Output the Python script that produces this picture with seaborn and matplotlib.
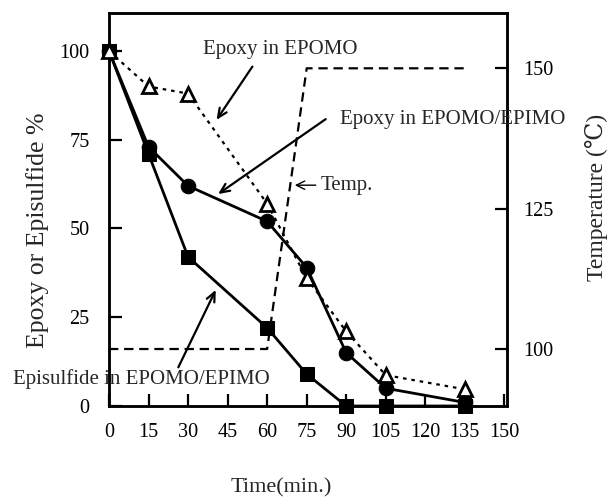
import matplotlib
matplotlib.use("Agg")
import matplotlib.pyplot as plt
import seaborn as sns
import pandas as pd

# Sampling times (min.)
time = [0, 15, 30, 60, 75, 90, 105, 135]
# Remaining epoxy / episulfide groups (%)
episulfide_mix = [100, 71, 42, 22, 9, 0, 0, 0]
epoxy_mix = [100, 73, 62, 52, 39, 15, 5, 1]
epoxy_epomo = [100, 90, 88, 57, 36, 21, 8.7, 4.7]
# Cure temperature program
temp_time = [0, 60, 75, 135]
temp_value = [100, 100, 150, 150]

x_ticks = [0, 15, 30, 45, 60, 75, 90, 105, 120, 135, 150]
left_ticks = [0, 25, 50, 75, 100]
right_ticks = [100, 125, 150]

sns.set_theme(style="white")
plt.rcParams["font.family"] = ["Liberation Serif", "DejaVu Serif"]
TICK_FS = 14.6
NOTE_FS = 15

df = pd.DataFrame({
    "time": time,
    "episulfide_mix": episulfide_mix,
    "epoxy_mix": epoxy_mix,
    "epoxy_epomo": epoxy_epomo,
})
temp_df = pd.DataFrame({"time": temp_time, "temp": temp_value})

W, H = 610, 497
fig = plt.figure(figsize=(W / 100, H / 100), dpi=100)
ax = fig.add_axes([109 / W, 1 - 406 / H, (507 - 109) / W, (406 - 13) / H])

sns.lineplot(data=df, x="time", y="epoxy_mix", ax=ax, color="black",
             linewidth=2.0, marker="o", markersize=10.5,
             markerfacecolor="black", markeredgecolor="black",
             zorder=3, clip_on=False)
sns.lineplot(data=df, x="time", y="episulfide_mix", ax=ax, color="black",
             linewidth=2.0, marker="s", markersize=10,
             markerfacecolor="black", markeredgecolor="black",
             zorder=4, clip_on=False)
sns.lineplot(data=df, x="time", y="epoxy_epomo", ax=ax, color="black",
             linewidth=1.6, linestyle=(0, (1.6, 2.2)), marker="^",
             markersize=9.5, markerfacecolor="white",
             markeredgecolor="black", markeredgewidth=2.0,
             zorder=5, clip_on=False)

ax.set_xlim(0, 151)
ax.set_ylim(0, 110.7)
ax.set_xticks(x_ticks)
ax.set_xticklabels([str(v) for v in x_ticks])
ax.set_yticks(left_ticks)
ax.set_yticklabels([str(v) for v in left_ticks])

ax2 = ax.twinx()
sns.lineplot(data=temp_df, x="time", y="temp", ax=ax2, color="black",
             linewidth=1.6, linestyle=(0, (4.2, 2.6)))
ax2.set_ylim(89.85, 159.85)
ax2.set_yticks(right_ticks)
ax2.set_yticklabels([str(v) for v in right_ticks])

for a in (ax, ax2):
    for s in a.spines.values():
        s.set_linewidth(1.8)
        s.set_color("black")
        s.set_visible(True)
    a.set_xlabel("")
    a.set_ylabel("")

ax.tick_params(axis="x", direction="in", length=9, width=1.6, pad=12,
               labelsize=TICK_FS, colors="black", bottom=True, top=False)
ax.tick_params(axis="y", direction="in", length=9, width=1.6, pad=14,
               labelsize=TICK_FS, colors="black", left=True, right=False)
ax2.tick_params(axis="y", direction="in", length=9, width=1.6, pad=12,
                labelsize=TICK_FS, colors="black", right=True, left=False)

# Percent curves in front of the temperature axis
ax2.set_zorder(ax.get_zorder() - 1)
ax.patch.set_visible(False)

# Axis titles
fig.text(281 / W, 1 - 488 / H, "Time(min.)", ha="center", va="center",
         fontsize=16)
fig.text(38 / W, 1 - 230 / H, "Epoxy or Episulfide %", ha="center",
         va="center", rotation=90, fontsize=18.5)
fig.text(596 / W, 1 - 197 / H, "Temperature (℃)", ha="center",
         va="center", rotation=90, fontsize=17)

# Series labels with pointer arrows
arrow = dict(arrowstyle="->, head_length=0.55, head_width=0.25",
             color="black", lw=1.6, shrinkA=0, shrinkB=0)

ax.text(35.7, 100.3, "Epoxy in EPOMO", ha="left", va="center",
        fontsize=NOTE_FS)
ax.annotate("", xy=(40.8, 80.6), xytext=(54.4, 95.6), arrowprops=arrow)

ax.text(87.5, 80.6, "Epoxy in EPOMO/EPIMO", ha="left", va="center",
        fontsize=NOTE_FS, zorder=6)
ax.annotate("", xy=(41.4, 59.7), xytext=(82.2, 80.8), arrowprops=arrow)

ax.annotate("Temp.", xy=(70.5, 62.2), xytext=(80.2, 62.2), ha="left",
            va="center", fontsize=NOTE_FS,
            arrowprops=dict(arrowstyle="->, head_length=0.4, head_width=0.2",
                            color="black", lw=1.0, shrinkA=1, shrinkB=0))

ax.text(-36.5, 7.6, "Episulfide in EPOMO/EPIMO", ha="left", va="center",
        fontsize=NOTE_FS, zorder=6)
ax.annotate("", xy=(40.5, 32.7), xytext=(26.3, 10.9), arrowprops=arrow)

fig.savefig("out.png", dpi=100, facecolor="white")
